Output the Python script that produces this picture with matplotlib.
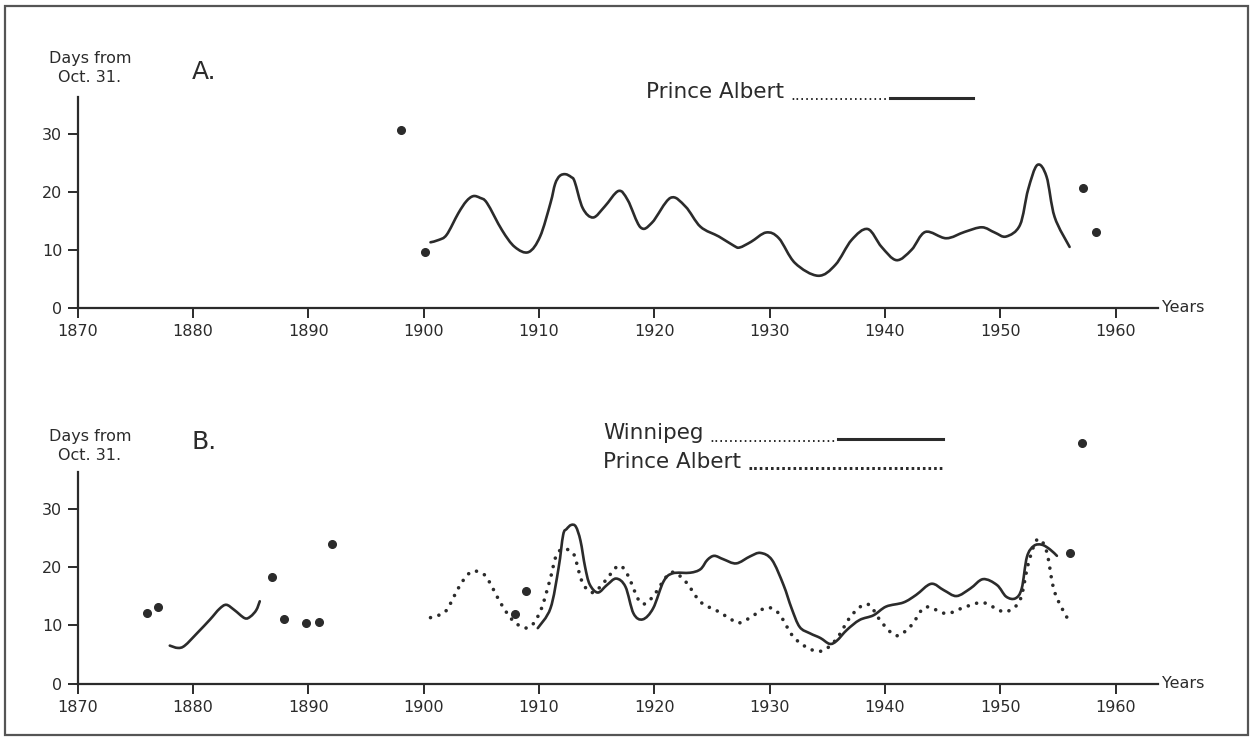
import matplotlib
matplotlib.use("Agg")
import matplotlib.pyplot as plt
from matplotlib.lines import Line2D
from matplotlib.patches import Rectangle, PathPatch
from matplotlib.path import Path

# Prince Albert smoothed curve (panel A solid, panel B dotted)
pa_years = [1900.6, 1901.3, 1902.0, 1903.0, 1903.7, 1904.3, 1904.9, 1905.5, 1906.8, 1907.9,
            1909.1, 1910.1, 1911.0, 1911.4, 1911.8, 1912.3, 1912.8, 1913.1, 1913.8, 1914.7,
            1915.7, 1916.9, 1917.7, 1918.8, 1919.8, 1921.4, 1922.7, 1924.0, 1925.6, 1926.9,
            1927.4, 1928.4, 1929.7, 1930.8, 1932.2, 1934.2, 1935.7, 1937.1, 1938.5, 1939.7,
            1941.0, 1942.3, 1943.5, 1945.3, 1946.9, 1948.4, 1949.5, 1950.5, 1951.7, 1952.4,
            1953.2, 1954.0, 1954.7, 1956.0]
pa_days = [11.3, 11.7, 12.6, 16.3, 18.4, 19.3, 19.0, 18.1, 13.4, 10.5,
           9.6, 12.3, 18.1, 21.4, 22.8, 23.1, 22.6, 21.8, 17.2, 15.6,
           17.5, 20.2, 18.6, 13.9, 14.7, 19.0, 17.5, 14.0, 12.3, 10.7,
           10.4, 11.4, 13.0, 12.0, 7.7, 5.5, 7.4, 11.7, 13.6, 10.5,
           8.2, 10.0, 13.1, 12.0, 13.1, 13.9, 13.0, 12.3, 14.3, 20.4,
           24.7, 22.7, 15.7, 10.5]

# Winnipeg curves (panel B)
wp_early_years = [1878.0, 1878.7, 1879.3, 1880.4, 1881.5, 1882.3, 1882.9, 1883.6, 1884.5, 1885.0, 1885.5, 1885.8]
wp_early_days = [6.5, 6.1, 6.5, 8.7, 11.0, 12.8, 13.5, 12.6, 11.2, 11.5, 12.6, 14.1]

wp_years = [1909.9, 1911.0, 1911.7, 1912.1, 1912.4, 1912.8, 1913.2, 1913.6, 1914.0, 1914.4,
            1915.1, 1915.9, 1916.7, 1917.5, 1918.2, 1919.0, 1919.9, 1920.8, 1921.6, 1923.1,
            1924.0, 1924.6, 1925.2, 1926.0, 1927.1, 1928.3, 1929.2, 1930.2, 1931.2, 1931.9,
            1932.6, 1933.5, 1934.4, 1935.2, 1935.8, 1936.7, 1937.8, 1939.0, 1940.1, 1941.6,
            1942.7, 1944.0, 1945.1, 1946.2, 1947.4, 1948.5, 1949.7, 1950.5, 1951.3, 1951.85,
            1952.3, 1952.9, 1953.6, 1954.3, 1954.9]
wp_days = [9.5, 12.9, 19.8, 25.5, 26.5, 27.2, 26.9, 24.5, 20.0, 17.0,
           15.6, 16.9, 18.0, 16.6, 12.0, 11.0, 12.9, 17.5, 18.9, 19.0,
           19.6, 21.2, 21.9, 21.3, 20.6, 21.8, 22.4, 21.2, 16.9, 12.9,
           9.7, 8.6, 7.8, 6.8, 7.3, 9.2, 10.9, 11.7, 13.2, 13.9,
           15.2, 17.1, 16.0, 15.0, 16.3, 17.9, 16.9, 14.9, 14.6, 16.3,
           21.7, 23.6, 23.8, 23.0, 21.9]

# single-year observations
a_pts_years = [1898.0, 1900.1, 1957.2, 1958.3]
a_pts_days = [30.7, 9.7, 20.7, 13.0]
b_pts_years = [1876.0, 1877.0, 1886.9, 1887.9, 1889.8, 1890.9, 1892.1, 1907.9, 1908.9, 1956.0, 1957.1]
b_pts_days = [12.1, 13.1, 18.2, 11.1, 10.4, 10.5, 24.0, 12.0, 15.8, 22.3, 41.3]

x_ticks = list(range(1870, 1961, 10))
y_ticks = [0, 10, 20, 30]

W, H = 1252, 737
INK = "#2b2b2b"
plt.rcParams["font.family"] = ["DejaVu Sans"]

fig = plt.figure(figsize=(W / 100, H / 100), dpi=100)


def fx(px):
    return px / W


def fy(py):
    return 1 - py / H


def make_axes(y0, ytop, days_per_px):
    # y0, ytop: pixel rows of the zero line and of the axis top
    ax = fig.add_axes([fx(77.5), fy(y0), fx(1158) - fx(77.5), (y0 - ytop) / H])
    ax.set_xlim(1870, 1870 + (1158 - 77.5) / 11.536)
    ax.set_ylim(0, (y0 - ytop) / days_per_px)
    for s in ["top", "right"]:
        ax.spines[s].set_visible(False)
    for s in ["left", "bottom"]:
        ax.spines[s].set_linewidth(1.6)
        ax.spines[s].set_color(INK)
    ax.set_xticks(x_ticks)
    ax.set_yticks(y_ticks)
    ax.tick_params(axis="both", direction="out", length=7, width=1.4, colors=INK,
                   labelsize=11.5, labelcolor=INK)
    ax.tick_params(axis="x", pad=5)
    ax.tick_params(axis="y", pad=4)
    ax.patch.set_alpha(0)
    ax.text(1.004, 0, "Years", transform=ax.transAxes, ha="left", va="center",
            fontsize=11.5, color=INK)
    return ax


def smooth_curve(ax, xs, ys, **kw):
    # Catmull-Rom through the read points, drawn as cubic Bezier in data coords
    verts = [(xs[0], ys[0])]
    codes = [Path.MOVETO]
    n = len(xs)
    for i in range(n - 1):
        x0, y0 = (xs[i - 1], ys[i - 1]) if i > 0 else (xs[i], ys[i])
        x1, y1 = xs[i], ys[i]
        x2, y2 = xs[i + 1], ys[i + 1]
        x3, y3 = (xs[i + 2], ys[i + 2]) if i + 2 < n else (x2, y2)
        verts += [(x1 + (x2 - x0) / 6, y1 + (y2 - y0) / 6),
                  (x2 - (x3 - x1) / 6, y2 - (y3 - y1) / 6),
                  (x2, y2)]
        codes += [Path.CURVE4] * 3
    ax.add_patch(PathPatch(Path(verts, codes), fill=False, **kw))


solid = dict(linestyle="-", linewidth=1.9, edgecolor=INK, capstyle="round", joinstyle="round")
dotted = dict(linestyle=(0, (0.01, 2.4)), linewidth=2.6, edgecolor=INK, capstyle="round")

# Panel A
axA = make_axes(307.5, 97, 5.77)
smooth_curve(axA, pa_years, pa_days, **solid)
axA.plot(a_pts_years, a_pts_days, "o", ms=5.5, color=INK, clip_on=False)

# Panel B
axB = make_axes(683.5, 472, 5.83)
smooth_curve(axB, pa_years, pa_days, **dotted)
smooth_curve(axB, wp_early_years, wp_early_days, **solid)
smooth_curve(axB, wp_years, wp_days, **solid)
axB.plot(b_pts_years, b_pts_days, "o", ms=5.5, color=INK, clip_on=False)

# axis captions and panel letters
for yt, letter, y1, y2 in [(72, "A.", 58, 78), (442, "B.", 436, 456)]:
    fig.text(fx(90), fy(y1), "Days from", ha="center", va="center", fontsize=11.5, color=INK)
    fig.text(fx(90), fy(y2), "Oct. 31.", ha="center", va="center", fontsize=11.5, color=INK)
    fig.text(fx(192), fy(yt), letter, ha="left", va="center", fontsize=18, color=INK)

renderer = fig.canvas.get_renderer()


def legend_label(px, py, label, dots_to, bold_dots=False):
    # label text followed by a run of leader dots up to pixel column dots_to
    t = fig.text(fx(px), fy(py), label, ha="left", va="center", fontsize=15.5, color=INK)
    end = t.get_window_extent(renderer).x1
    probe = fig.text(0, 0, "." * 10, fontsize=11, fontweight="bold" if bold_dots else "normal")
    dot_w = probe.get_window_extent(renderer).width / 10
    probe.remove()
    count = max(3, int((dots_to - end - 2) / dot_w))
    fig.text(fx(dots_to), fy(py + 4), "." * count, ha="right", va="center", fontsize=11,
             color=INK, fontweight="bold" if bold_dots else "normal")


# legend, panel A
legend_label(646, 92, "Prince Albert", 888)
fig.add_artist(Line2D([fx(890), fx(973)], [fy(98), fy(98)], transform=fig.transFigure,
                      linewidth=2.2, color=INK))

# legend, panel B
legend_label(603, 433, "Winnipeg", 836)
fig.add_artist(Line2D([fx(838), fx(943)], [fy(439), fy(439)], transform=fig.transFigure,
                      linewidth=2.2, color=INK))
legend_label(603, 462, "Prince Albert", 944, bold_dots=True)

# frame round the whole figure
fig.add_artist(Rectangle((fx(5), fy(735)), fx(1248) - fx(5), fy(6) - fy(735),
                         transform=fig.transFigure, fill=False, linewidth=1.6, edgecolor="#555555"))

fig.savefig("out.png", dpi=100)
